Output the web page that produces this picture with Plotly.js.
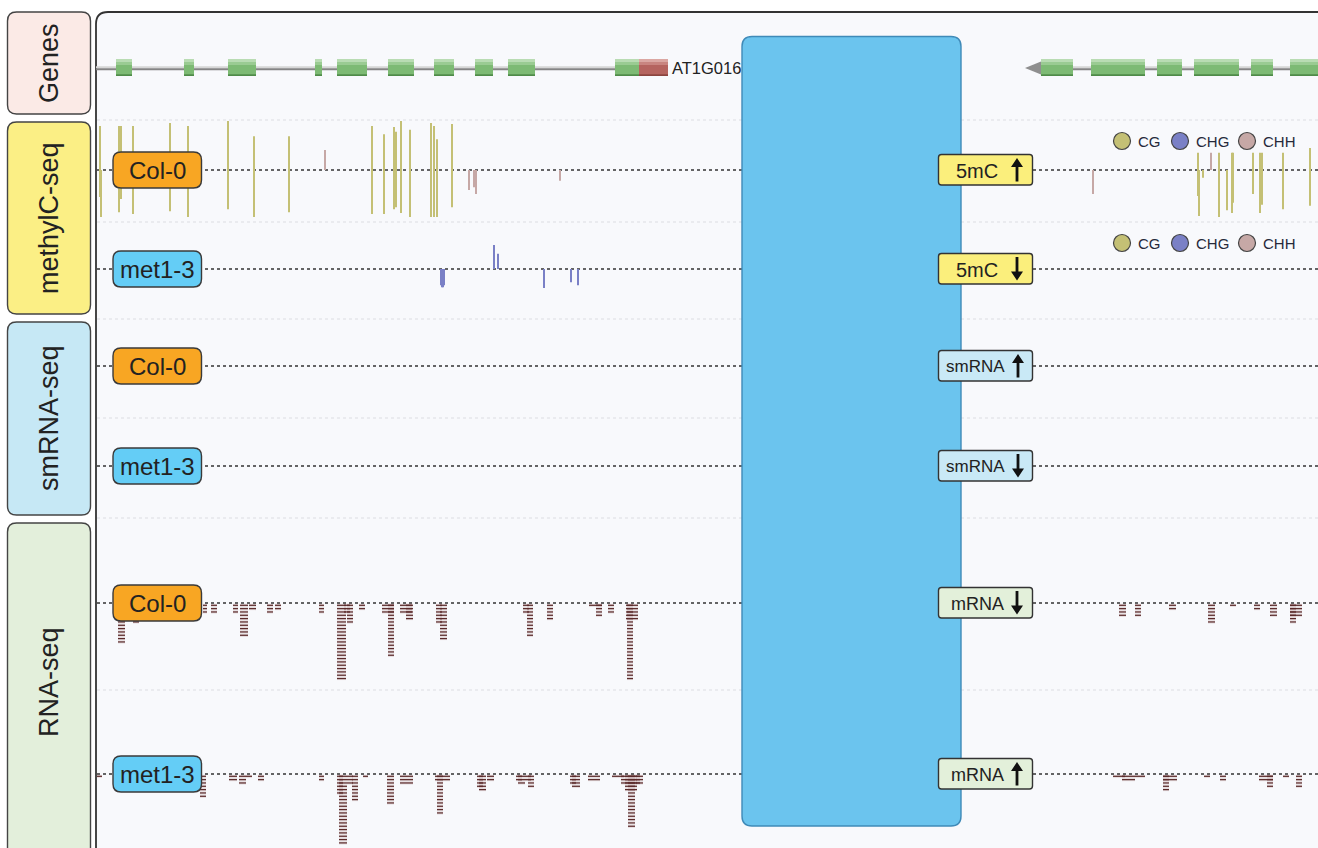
<!DOCTYPE html>
<html><head><meta charset="utf-8">
<script src="https://cdn.plot.ly/plotly-3.0.1.min.js"></script>
<style>html,body{margin:0;padding:0;background:#fff}#chart{width:1318px;height:848px}</style>
</head><body><div id="chart"></div>
<script>
// ---------------- DATA ----------------
const categories = ['Genes', 'methylC-seq', 'smRNA-seq', 'RNA-seq'];
const trackNames = ['Col-0', 'met1-3', 'Col-0', 'met1-3', 'Col-0', 'met1-3'];
const compareTexts = ['5mC', '5mC', 'smRNA', 'smRNA', 'mRNA', 'mRNA'];
const compareDirs = ['up', 'down', 'up', 'down', 'down', 'up'];
const contexts = ['CG', 'CHG', 'CHH'];
const geneName = 'AT1G016';

// gene models (genomic position units)
const gene1Start = 96, gene1End = 668;
const gene1ExonStart = [116, 184, 228, 315, 337, 388, 434, 475, 508, 615];
const gene1ExonEnd   = [132, 194, 256, 322, 367, 414, 454, 493, 535, 639];
const gene1UtrStart = [639], gene1UtrEnd = [668];
const gene2Start = 1025, gene2End = 1318;
const gene2ExonStart = [1041, 1091, 1157, 1194, 1251, 1290];
const gene2ExonEnd   = [1073, 1145, 1182, 1239, 1273, 1330];

// methylation levels (fraction), Col-0 CG
const col0CgPos  = [100, 101, 119, 121, 133, 170, 188, 228, 254, 289, 372, 384, 394, 396, 401, 410, 431, 434, 437, 452, 1198, 1199, 1203, 1219, 1227, 1232, 1233, 1253, 1260, 1262, 1283, 1310];
const col0CgFwd  = [0.90, 0, 0.90, 0.90, 0.90, 0.96, 0.90, 1.00, 0.69, 0.69, 0.90, 0.73, 0.88, 0.78, 1.00, 0.82, 0.96, 0.90, 0.63, 0.94, 0.35, 0, 0, 0.35, 0, 0.35, 0.35, 0.35, 0.35, 0.35, 0.35, 0.45];
const col0CgRev  = [0.55, 0.96, 0.86, 0.59, 0.90, 0.84, 0.96, 0.80, 0.96, 0.86, 0.90, 0.90, 0.80, 0.76, 0.88, 0.96, 0.96, 0.96, 0.96, 0.76, 0.53, 0.94, 0.16, 0.96, 0.82, 0.88, 0.67, 0.49, 0.88, 0.71, 0.80, 0.73];
// Col-0 CHH
const col0ChhPos = [325, 469, 474, 476, 560, 1093, 1211];
const col0ChhFwd = [0.41, 0, 0, 0, 0, 0, 0.35];
const col0ChhRev = [0, 0.41, 0.35, 0.49, 0.22, 0.49, 0];
// met1-3 CHG
const met1ChgPos = [441, 442, 443, 444, 494, 498, 544, 571, 578];
const met1ChgFwd = [0, 0, 0, 0, 0.49, 0.31, 0, 0, 0];
const met1ChgRev = [0.33, 0.37, 0.37, 0.33, 0, 0, 0.39, 0.27, 0.33];

// RNA-seq read pileups: column start, end, read depth
const col0RnaStart = [118, 133, 203, 211, 233, 240, 249, 267, 275, 319, 337, 344, 347, 359, 382, 388, 400, 406, 436, 440, 523, 527, 547, 589, 596, 608, 626, 627, 1119, 1135, 1169, 1208, 1230, 1254, 1270, 1290, 1290];
const col0RnaEnd   = [125, 139, 207, 217, 238, 248, 256, 273, 281, 324, 346, 350, 353, 365, 394, 394, 412, 413, 442, 447, 529, 533, 553, 602, 602, 614, 638, 633, 1126, 1141, 1176, 1215, 1236, 1260, 1277, 1302, 1296];
const col0RnaDepth = [12, 6, 3, 3, 3, 10, 2, 3, 2, 3, 23, 3, 6, 2, 3, 16, 3, 5, 6, 11, 3, 10, 5, 1, 4, 3, 5, 23, 4, 4, 2, 6, 1, 2, 4, 4, 6];
const met1RnaStart = [97, 121, 135, 200, 229, 239, 246, 258, 319, 337, 339, 347, 352, 363, 387, 400, 435, 437, 477, 479, 487, 516, 518, 525, 528, 570, 572, 588, 612, 621, 625, 628, 636, 1113, 1122, 1135, 1163, 1163, 1204, 1220, 1259, 1267, 1283, 1296];
const met1RnaEnd   = [102, 127, 141, 206, 237, 246, 252, 264, 324, 343, 347, 353, 358, 368, 394, 413, 450, 443, 483, 486, 494, 522, 525, 531, 534, 576, 580, 600, 624, 640, 637, 635, 643, 1125, 1135, 1145, 1177, 1169, 1210, 1226, 1273, 1273, 1289, 1302];
const met1RnaDepth = [1, 5, 5, 7, 2, 3, 1, 2, 2, 6, 21, 3, 8, 1, 9, 3, 2, 12, 4, 5, 2, 2, 3, 2, 4, 3, 4, 2, 1, 3, 5, 16, 3, 1, 2, 1, 2, 5, 1, 2, 2, 4, 1, 4];

// ---------------- LAYOUT HELPERS ----------------
const FONT = 'Liberation Sans, Arial, Helvetica, sans-serif';
const baselines = [170, 269, 366, 466, 603, 774];
const separators = [120, 222, 319, 418, 518, 690];
const METH_SCALE = 49;   // px for level 1.0
const ROW0 = 2.3, ROW_STEP = 3.33;

function rr(x0, y0, x1, y1, r) {
  return `M${x0 + r},${y0} L${x1 - r},${y0} Q${x1},${y0} ${x1},${y0 + r} L${x1},${y1 - r} Q${x1},${y1} ${x1 - r},${y1} L${x0 + r},${y1} Q${x0},${y1} ${x0},${y1 - r} L${x0},${y0 + r} Q${x0},${y0} ${x0 + r},${y0} Z`;
}
const shapes = [];
const annotations = [];
function rect(x0, y0, x1, y1, fill, layer) {
  shapes.push({type: 'rect', xref: 'x', yref: 'y', x0, y0, x1, y1, fillcolor: fill, line: {width: 0}, layer: layer || 'below'});
}
function txt(x, y, text, size, opts) {
  annotations.push(Object.assign({xref: 'x', yref: 'y', x, y, text, showarrow: false,
    font: {family: FONT, size, color: '#222'}, xanchor: 'center', yanchor: 'middle'}, opts || {}));
}

// main panel
shapes.push({type: 'path', xref: 'x', yref: 'y', layer: 'below',
  path: 'M96,860 L96,24 Q96,12 108,12 L1330,12 L1330,860 Z', fillcolor: '#f8f9fc', line: {color: '#333', width: 1.8}});

// category boxes
const catBox = [[12, 114, '#fbeae6'], [122, 314, '#fbef85'], [322, 515, '#c6e8f5'], [523, 880, '#e3efdb']];
const catCenter = [63, 218, 418, 682];
categories.forEach((c, i) => {
  shapes.push({type: 'path', xref: 'x', yref: 'y', layer: 'below', path: rr(7.5, catBox[i][0], 90.5, catBox[i][1], 9),
    fillcolor: catBox[i][2], line: {color: '#444', width: 1.4}});
  txt(49, catCenter[i], c, 27, {textangle: -90});
});

// separators and baselines
separators.forEach(y => shapes.push({type: 'line', xref: 'x', yref: 'y', layer: 'below', x0: 97, x1: 1318, y0: y, y1: y,
  line: {color: '#dcdde2', width: 1.2, dash: 'dot'}}));
baselines.forEach(y => shapes.push({type: 'line', xref: 'x', yref: 'y', layer: 'below', x0: 97, x1: 1318, y0: y, y1: y,
  line: {color: '#333', width: 1.3, dash: 'dot'}}));

// gene models
function geneLine(x0, x1) {
  shapes.push({type: 'line', xref: 'x', yref: 'y', layer: 'below', x0, x1, y0: 67.3, y1: 67.3, line: {color: '#d6d6d6', width: 2}});
  shapes.push({type: 'line', xref: 'x', yref: 'y', layer: 'below', x0, x1, y0: 69.3, y1: 69.3, line: {color: '#858585', width: 2}});
}
function exon(x0, x1, c) {
  rect(x0, 59, x1, 76, c[0]);
  rect(x0, 59, x1, 62.5, c[1]);
  rect(x0, 62.5, x1, 65, c[2]);
  rect(x0, 74.3, x1, 76, c[3]);
}
const GREEN = ['#7dba74', '#b9dcb3', '#9acb92', '#4f8b49'];
const RED = ['#b5645f', '#dba7a2', '#c98580', '#8b4540'];
geneLine(gene1Start, gene1ExonStart[gene1ExonStart.length - 1]);
gene1ExonStart.forEach((s, i) => exon(s, gene1ExonEnd[i], GREEN));
gene1UtrStart.forEach((s, i) => exon(s, gene1UtrEnd[i], RED));
txt(gene1End + 2, 68, geneName, 16.5, {xanchor: 'left'});
geneLine(gene2ExonStart[0], gene2End);
shapes.push({type: 'path', xref: 'x', yref: 'y', layer: 'below',
  path: `M${gene2Start},68 L${gene2ExonStart[0]},61.5 L${gene2ExonStart[0]},74.5 Z`, fillcolor: '#8f8f8f', line: {width: 0}});
gene2ExonStart.forEach((s, i) => exon(s, gene2ExonEnd[i], GREEN));

// ---------------- TRACES ----------------
function methTrace(pos, fwd, rev, base, color) {
  const x = [], y = [];
  pos.forEach((p, i) => { x.push(p, p, null); y.push(base - fwd[i] * METH_SCALE, base + rev[i] * METH_SCALE, null); });
  return {type: 'scatter', mode: 'lines', x, y, line: {color, width: 2}, hoverinfo: 'skip', showlegend: false};
}
function readTrace(st, en, dp, base) {
  const x = [], y = [];
  st.forEach((s, i) => {
    for (let k = 0; k < dp[i]; k++) { const yy = base + ROW0 + ROW_STEP * k; x.push(s, en[i], null); y.push(yy, yy, null); }
  });
  return [
    {type: 'scatter', mode: 'lines', x, y, line: {color: 'rgba(150,100,100,0.22)', width: 3}, hoverinfo: 'skip', showlegend: false},
    {type: 'scatter', mode: 'lines', x, y, line: {color: '#5a2a2a', width: 1.2}, hoverinfo: 'skip', showlegend: false}
  ];
}
const COL = {CG: '#c4c075', CHG: '#7a80c6', CHH: '#c6a8a6'};
const traces = [
  methTrace(col0CgPos, col0CgFwd, col0CgRev, baselines[0], COL.CG),
  methTrace(col0ChhPos, col0ChhFwd, col0ChhRev, baselines[0], COL.CHH),
  methTrace(met1ChgPos, met1ChgFwd, met1ChgRev, baselines[1], COL.CHG),
  ...readTrace(col0RnaStart, col0RnaEnd, col0RnaDepth, baselines[4]),
  ...readTrace(met1RnaStart, met1RnaEnd, met1RnaDepth, baselines[5])
];

// ---------------- ABOVE LAYER ----------------
// left track labels
trackNames.forEach((n, i) => {
  const b = baselines[i];
  shapes.push({type: 'path', xref: 'x', yref: 'y', layer: 'above', path: rr(113, b - 18, 201.5, b + 18, 8),
    fillcolor: n === 'Col-0' ? '#f8a623' : '#64cdf6', line: {color: '#3a3a3a', width: 1.4}});
  txt(157.5, b + 0.5, n, 24);
});
// big blue block
shapes.push({type: 'path', xref: 'x', yref: 'y', layer: 'above', path: rr(742, 36.5, 961, 826, 10),
  fillcolor: '#6bc4ee', line: {color: '#3f8ab8', width: 1.4}});
// right comparison labels
const cmpFill = ['#fbef7c', '#fbef7c', '#c9e9f6', '#c9e9f6', '#e3f0da', '#e3f0da'];
const cmpSize = [20, 20, 17, 17, 18, 18];
const cmpTextX = [976.5, 976.5, 975.5, 975.5, 977, 977];
compareTexts.forEach((t, i) => {
  const b = baselines[i];
  shapes.push({type: 'path', xref: 'x', yref: 'y', layer: 'above', path: rr(938.5, b - 15.5, 1032.5, b + 15, 3),
    fillcolor: cmpFill[i], line: {color: '#333', width: 1.4}});
  txt(cmpTextX[i], b + 0.5, t, cmpSize[i]);
  const cx = (i === 2 || i === 3) ? 1018 : 1017;
  const top = b - 12, bot = b + 11.5;
  let p;
  if (compareDirs[i] === 'up') {
    p = `M${cx - 1.4},${bot} L${cx - 1.4},${top + 9} L${cx - 6},${top + 9} L${cx},${top} L${cx + 6},${top + 9} L${cx + 1.4},${top + 9} L${cx + 1.4},${bot} Z`;
  } else {
    p = `M${cx - 1.4},${top} L${cx - 1.4},${bot - 9} L${cx - 6},${bot - 9} L${cx},${bot} L${cx + 6},${bot - 9} L${cx + 1.4},${bot - 9} L${cx + 1.4},${top} Z`;
  }
  shapes.push({type: 'path', xref: 'x', yref: 'y', layer: 'above', path: p, fillcolor: '#111', line: {width: 0}});
});
// methylation context legends
const legY = [141, 243];
const legX = [1122, 1180, 1247];
legY.forEach(y => {
  contexts.forEach((c, j) => {
    shapes.push({type: 'circle', xref: 'x', yref: 'y', layer: 'above', x0: legX[j] - 8.5, x1: legX[j] + 8.5, y0: y - 8.5, y1: y + 8.5,
      fillcolor: COL[c], line: {color: '#444', width: 1.2}});
    txt(legX[j] + 14, y + 0.5, c, 15, {xanchor: 'left', font: {family: FONT, size: 15, color: '#26293a'}});
  });
});

const layout = {
  width: 1318, height: 848, margin: {l: 0, r: 0, t: 0, b: 0, pad: 0},
  paper_bgcolor: '#ffffff', plot_bgcolor: '#ffffff', showlegend: false,
  xaxis: {range: [0, 1318], visible: false, fixedrange: true},
  yaxis: {range: [848, 0], visible: false, fixedrange: true},
  shapes, annotations
};
Plotly.newPlot('chart', traces, layout, {staticPlot: true, displayModeBar: false});
</script></body></html>
